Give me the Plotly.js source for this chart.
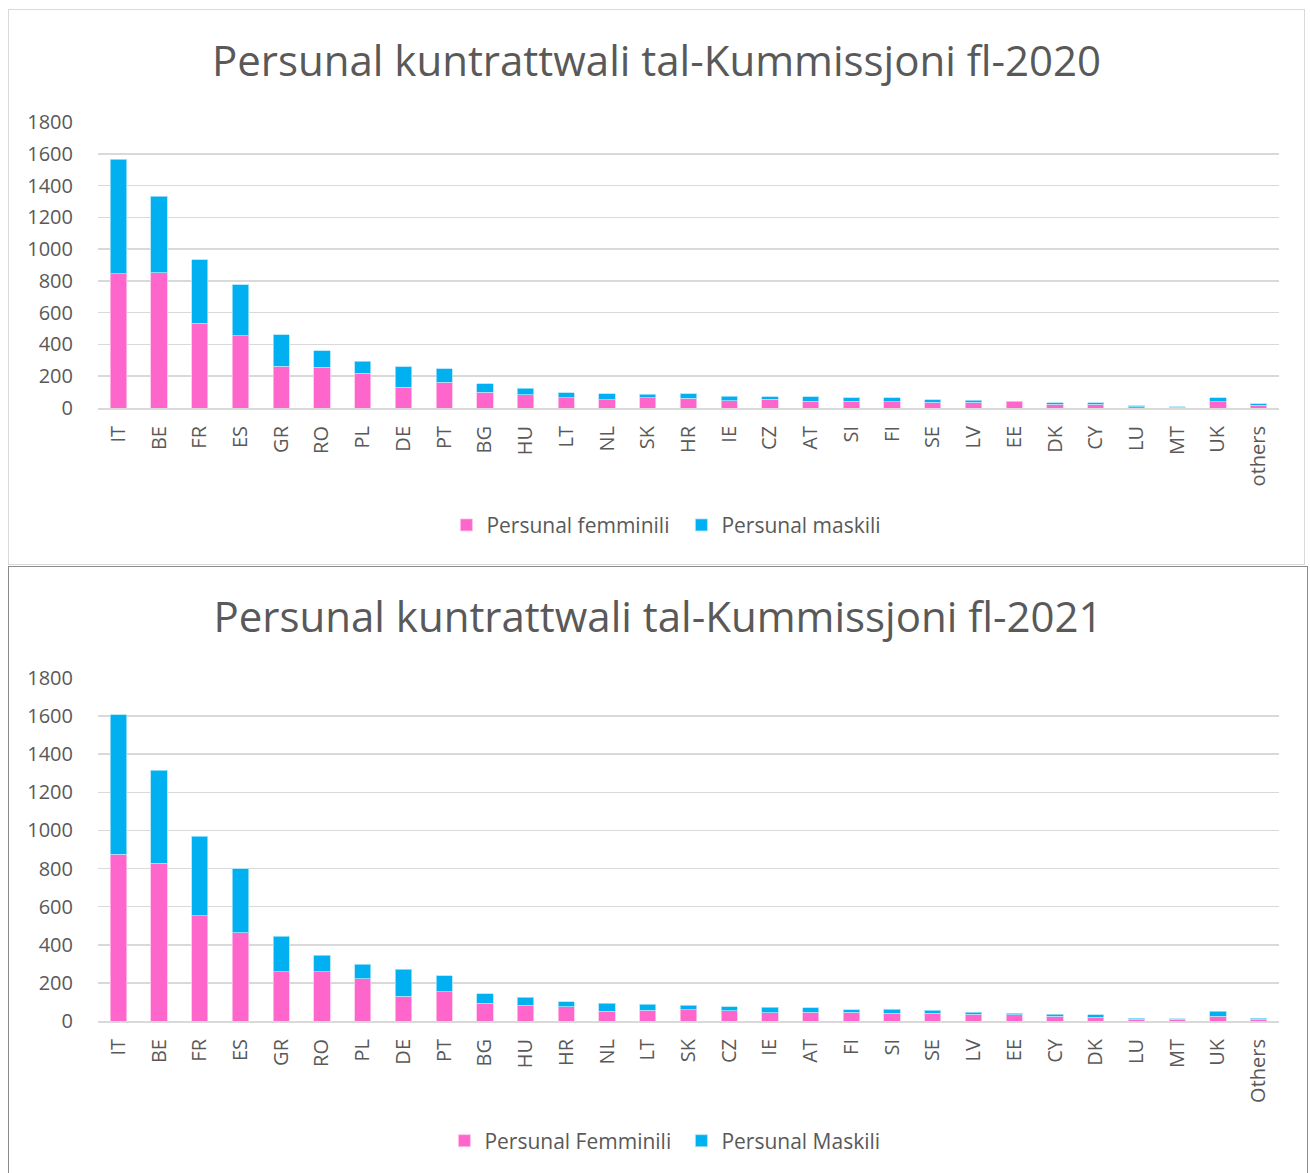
<!DOCTYPE html>
<html>
<head>
<meta charset="utf-8">
<script src="https://cdn.plot.ly/plotly-3.0.1.min.js"></script>
<style>
  body { margin: 0; background: #fff; }
  #c2020 { position: absolute; left: 8px; top: 9px; width: 1295px; height: 554px; border: 1px solid #d9d9d9; }
  #c2021 { position: absolute; left: 8px; top: 566px; width: 1298px; height: 610px; border: 1px solid #8c8c8c; }
</style>
</head>
<body>
<div id="c2020"></div>
<div id="c2021"></div>
<script>
// 2020 data
var countries2020 = ['IT','BE','FR','ES','GR','RO','PL','DE','PT','BG','HU','LT','NL','SK','HR','IE','CZ','AT','SI','FI','SE','LV','EE','DK','CY','LU','MT','UK','others'];
var female2020 = [845, 851, 533, 454, 262, 255, 220, 132, 163, 100, 82, 64, 51, 64, 61, 45, 55, 41, 41, 40, 37, 35, 38, 23, 23, 8, 4, 40, 17];
var male2020   = [721, 483, 400, 322, 198, 105, 73, 128, 84, 53, 42, 31, 40, 23, 28, 29, 17, 29, 25, 23, 16, 14, 3, 11, 11, 5, 4, 26, 10];

// 2021 data
var countries2021 = ['IT','BE','FR','ES','GR','RO','PL','DE','PT','BG','HU','HR','NL','LT','SK','CZ','IE','AT','FI','SI','SE','LV','EE','CY','DK','LU','MT','UK','Others'];
var female2021 = [874, 827, 552, 464, 259, 259, 223, 131, 154, 93, 82, 75, 51, 56, 60, 53, 44, 46, 46, 40, 42, 35, 32, 25, 19, 8, 10, 26, 8];
var male2021   = [732, 488, 418, 334, 186, 86, 75, 141, 84, 51, 42, 25, 42, 32, 22, 23, 28, 24, 14, 21, 14, 11, 8, 10, 15, 6, 2, 25, 6];

var pink = '#FF66CC';
var blue = '#00B0F0';
var txt = '#595959';
var font = 'Open Sans, sans-serif';

function makeChart(title, cats, fem, mal, names, legendX, legendY, entryW) {
  var f = {
    x: cats, y: fem, name: names[0], type: 'bar',
    marker: {color: pink, line: {color: '#ffc2ea', width: 0.8}}
  };
  var m = {
    x: cats, y: mal, name: names[1], type: 'bar',
    marker: {color: blue, line: {color: '#a6e4fa', width: 0.8}}
  };
  var layout = {
    barmode: 'stack',
    bargap: 0.6,
    title: {text: title, font: {family: font, size: 42, color: txt}, x: 0.5, xanchor: 'center', yanchor: 'middle', yref: 'container'},
    font: {family: font, color: txt},
    margin: {l: 89, r: 25, t: 112, b: 0},
    showlegend: true,
    legend: {orientation: 'h', x: legendX, xanchor: 'center', y: legendY, yanchor: 'middle',
             font: {family: font, size: 21, color: txt}, traceorder: 'normal', entrywidth: entryW, entrywidthmode: 'pixels'},
    xaxis: {type: 'category', tickangle: -90, tickfont: {size: 20, color: txt},
            showline: true, linecolor: '#d9d9d9', linewidth: 2, ticks: 'outside', ticklen: 8, tickcolor: 'rgba(0,0,0,0)', showgrid: false},
    yaxis: {range: [0, 1800], dtick: 200, tickfont: {size: 20, color: txt}, gridcolor: '#d9d9d9', gridwidth: 1.5,
            zeroline: false, ticks: 'outside', ticklen: 20, tickcolor: 'rgba(0,0,0,0)', showline: false, fixedrange: true},
    paper_bgcolor: '#fff', plot_bgcolor: '#fff'
  };
  return [[f, m], layout];
}

var a = makeChart('Persunal kuntrattwali tal-Kummissjoni fl-2020', countries2020, female2020, male2020,
                  ['Persunal femminili', 'Persunal maskili'], 0.494, -0.41, 190);
a[1].title.y = 1 - 51 / 554;
a[1].margin.b = 554 - 112 - 286;
Plotly.newPlot('c2020', a[0], a[1], {displayModeBar: false, staticPlot: true});

var b = makeChart('Persunal kuntrattwali tal-Kummissjoni fl-2021', countries2021, female2021, male2021,
                  ['Persunal Femminili', 'Persunal Maskili'], 0.494, -0.35, 192);
b[1].title.y = 1 - 50 / 610;
b[1].margin.t = 111;
b[1].margin.b = 610 - 111 - 343;
b[1].margin.r = 28;
Plotly.newPlot('c2021', b[0], b[1], {displayModeBar: false, staticPlot: true});
</script>
</body>
</html>
